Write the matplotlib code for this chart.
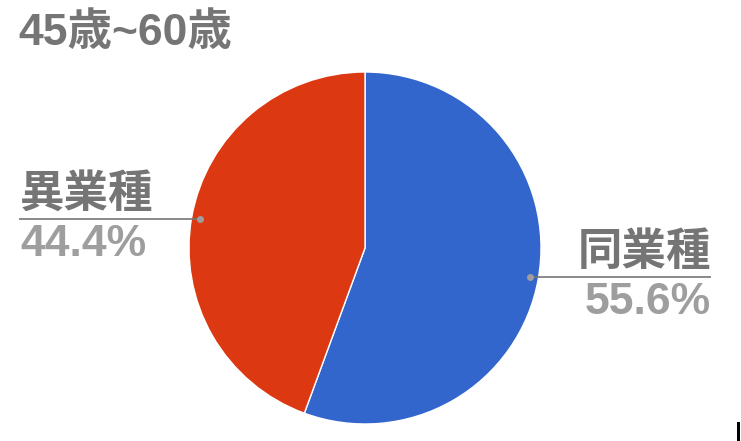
import numpy as np
import matplotlib
matplotlib.use("Agg")
import matplotlib.pyplot as plt
from matplotlib.patches import Rectangle

title = "45歳~60歳"
categories = ["同業種", "異業種"]
values = [55.6, 44.4]
colors = ["#3366CC", "#DC3912"]

W, H = 741, 441
fig = plt.figure(figsize=(W / 100, H / 100), dpi=100)
ax = fig.add_axes([0, 0, 1, 1])

cx, cy, R = 365, H - 248, 176
wedges, _ = ax.pie(values, colors=colors, startangle=90, counterclock=False,
                   center=(cx, cy), radius=R, frame=True,
                   wedgeprops=dict(linewidth=1, edgecolor="white"))
ax.set_xlim(0, W)
ax.set_ylim(0, H)
ax.set_aspect("equal")
ax.axis("off")

fam_cjk = ["Noto Sans CJK JP", "DejaVu Sans"]
fam_num = ["Liberation Sans", "Noto Sans CJK JP"]

ax.text(18, H - 33, title, fontsize=32, fontweight="bold", color="#757575",
        family=fam_num, va="center", ha="left")

total = sum(values)
layout = {0: dict(x_end=711, ha="right"), 1: dict(x_end=19, ha="left")}
for i, w in enumerate(wedges):
    mid = np.deg2rad((w.theta1 + w.theta2) / 2)
    dx, dy = cx + 0.95 * R * np.cos(mid), cy + 0.95 * R * np.sin(mid)
    xe = layout[i]["x_end"]
    ha = layout[i]["ha"]
    ax.plot([dx, xe], [dy, dy], color="#757575", lw=1.2, solid_capstyle="butt")
    ax.plot([dx], [dy], marker="o", ms=4, color="#9e9e9e")
    tx = xe if ha == "right" else xe + 1
    ax.text(tx, dy + 2, categories[i], fontsize=32, fontweight="bold",
            color="#757575", family=fam_cjk, ha=ha, va="bottom")
    ax.text(tx, dy - 5, f"{values[i] / total * 100:.1f}%", fontsize=32,
            fontweight="bold", color="#9e9e9e", family=fam_num, ha=ha, va="top")

# small dark edge mark at bottom-right corner of the original image
fig.patches.append(Rectangle((737 / W, 0), 3 / W, 19 / H, transform=fig.transFigure,
                             facecolor="black", edgecolor="none"))

fig.savefig("out.png", dpi=100, facecolor="white")
